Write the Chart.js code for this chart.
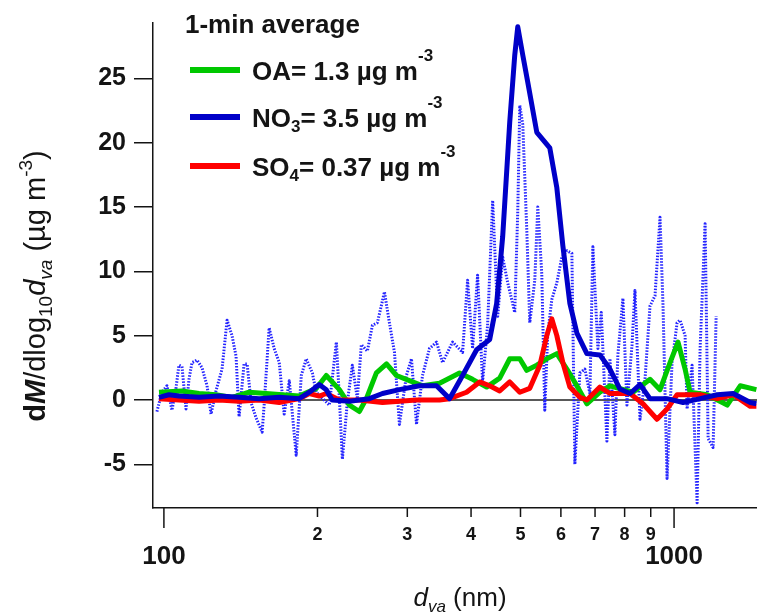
<!DOCTYPE html>
<html>
<head>
<meta charset="utf-8">
<script src="https://cdn.jsdelivr.net/npm/chart.js@4.4.0/dist/chart.umd.min.js"></script>
<style>
  html, body { margin: 0; padding: 0; background: #fff; }
</style>
</head>
<body>
<canvas id="sizeChart" width="757" height="613"></canvas>
<script>
// vacuum aerodynamic diameter (nm) for each trace, and dM/dlog10dva (ug m-3)
var oaSize = [97.8, 108.5, 117.2, 126.5, 136.0, 146.9, 158.7, 170.6, 184.2, 198.9, 208.1, 220.8, 231.0, 241.6, 249.4, 260.9,
  273.1, 285.7, 302.9, 321.3, 347.0, 379.8, 402.8, 429.1, 455.2, 476.3, 498.4, 514.4, 538.2, 563.0, 589.1, 616.4,
  644.9, 674.7, 715.6, 748.6, 830.9, 897.1, 938.6, 982, 1018, 1051, 1075, 1161, 1271, 1348, 1450];
var oaConc = [0.6, 0.7, 0.5, 0.4, 0.2, 0.6, 0.5, 0.4, 0.3, 0.9, 1.9, 0.8, -0.4, -0.9, 0.1, 2.1,
  2.8, 1.9, 1.5, 1.1, 1.3, 2.1, 1.6, 1.0, 1.7, 3.2, 3.2, 2.3, 2.7, 3.2, 3.6, 2.4,
  1.1, -0.3, 0.6, 1.1, 0.6, 1.6, 0.8, 2.9, 4.5, 2.4, 0.6, 0.4, -0.4, 1.1, 0.8];

var no3Size = [97.8, 102.3, 107.0, 117.2, 128.2, 140.4, 153.7, 168.3, 184.2, 192.8, 201.6, 208.1, 213.8, 231.0, 252.8, 268.2,
  289.5, 317.0, 342.3, 363.0, 385.0, 410.2, 435.1, 449.0, 461.4, 476.3, 487.2, 493.9, 505.2, 516.7, 538.2, 570.6,
  589.1, 605.3, 624.8, 644.9, 674.7, 715.6, 748.6, 783.2, 819.9, 857.4, 897.1, 968.8, 1041.5, 1124.7, 1214.9, 1306, 1410.6, 1450];
var no3Conc = [0.2, 0.4, 0.3, 0.2, 0.3, 0.2, 0.1, 0.2, 0.1, 0.6, 1.2, 0.8, 0.0, -0.1, 0.1, 0.5,
  0.8, 1.1, 1.1, 0.1, 1.9, 3.9, 4.7, 7.5, 12.7, 21.6, 26.8, 29.0, 26.8, 24.7, 20.8, 19.6,
  16.5, 12.0, 7.5, 5.2, 3.6, 3.5, 2.4, 0.85, 0.5, 1.2, 0.1, 0.1, -0.2, 0.1, 0.4, 0.5, -0.2, -0.3];

var so4Size = [97.8, 107.0, 117.2, 128.2, 140.4, 153.7, 168.3, 184.2, 192.8, 201.6, 208.1, 220.8, 241.6, 268.2, 289.5, 312.7,
  347.0, 363.0, 392.0, 415.8, 435.1, 455.2, 476.3, 498.4, 521.4, 545.6, 563.0, 575.9, 589.1, 605.3, 624.8, 653.7,
  674.7, 715.6, 748.6, 819.9, 869.1, 926, 968.8, 1013.7, 1124.7, 1214.9, 1306, 1410.6, 1450];
var so4Conc = [0.1, 0.0, -0.1, 0.0, -0.1, 0.0, -0.2, 0.1, 0.5, 0.3, 0.5, 0.0, 0.0, -0.2, -0.1, 0.0,
  0.0, 0.1, 0.6, 1.4, 1.1, 0.7, 1.4, 0.6, 0.9, 2.7, 5.0, 6.3, 5.0, 2.9, 1.0, 0.2,
  0.0, 1.0, 0.5, 0.5, -0.3, -1.5, -0.7, 0.4, 0.4, 0.1, 0.4, -0.5, -0.5];

// unsmoothed 1-min nitrate distribution
var rawSize = [96.9, 99.1, 101.4, 103.7, 105.6, 107.0, 108.5, 110.5, 112.0, 113.5, 116.1, 118.8, 121.5, 123.7, 126.5, 130.0,
  133.0, 136.0, 138.5, 140.4, 143.6, 145.6, 148.2, 151.6, 155.8, 157.2, 160.8, 164.5, 168.3, 172.1, 176.1, 181.7,
  185.9, 190.1, 195.4, 198.9, 211.0, 217.8, 220.8, 223.8, 228.8, 234.1, 239.4, 243.8, 250.5, 256.3, 262.1, 270.6,
  276.7, 283.1, 289.5, 298.8, 305.7, 312.7, 321.3, 331.6, 342.3, 351.7, 368.0, 385.0, 393.8, 402.8, 412.0, 421.4,
  431.0, 441.0, 451.1, 461.4, 472.0, 487.2, 493.9, 498.4, 505.2, 514.4, 521.4, 533.3, 540.6, 550.4, 557.9, 565.6,
  575.9, 589.1, 602.6, 616.4, 630.5, 639.1, 653.7, 668.6, 683.9, 693.2, 709.1, 720.0, 738.5, 748.6, 765.7, 776.0,
  793.9, 808.4, 826.9, 838.2, 857.4, 877.0, 897.1, 917.6, 938.6, 951.4, 968.8, 991.0, 1013.7, 1027.5, 1051.0, 1060.6,
  1084.8, 1109.6, 1124.7, 1150.4, 1166.2, 1192.8, 1209.1];
var rawConc = [-0.9, 0.6, 1.1, -0.8, 0.9, 2.7, 2.6, -0.7, 1.6, 2.9, 3.1, 2.5, 1.1, -1.1, 0.7, 2.4,
  6.2, 5.0, 3.4, -1.3, 2.8, 2.8, -0.2, -1.4, -2.5, -0.4, 5.6, 4.0, 2.9, -1.1, 1.5, -4.3,
  1.9, 3.2, 2.1, 0.6, -0.4, 4.5, 0.1, -4.6, -0.2, 2.7, 0.1, 4.3, 3.8, 5.8, 6.0, 8.4,
  6.0, 3.7, -1.9, 1.9, 3.2, -1.9, 1.9, 4.0, 4.5, 2.9, 4.5, 3.7, 9.3, 4.0, 9.7, 1.4,
  5.8, 15.5, 6.5, 11.1, 9.1, 6.8, 14.7, 22.9, 21.4, 13.2, 6.0, 9.3, 15.0, 9.8, -0.8, 5.2,
  7.8, 9.1, 11.1, 11.6, 11.4, -5.0, 2.1, 2.4, 0.5, 11.9, 4.0, 6.8, -3.2, 3.2, -2.7, 3.5,
  7.9, -0.4, 4.2, 8.5, -1.5, 1.6, 7.3, 8.1, 14.2, 7.3, -6.1, 2.9, 6.0, 6.2, 5.0, -0.7,
  2.7, -8.0, 4.0, 13.7, -3.0, -3.7, 6.5];

var yTicks = [-5, 0, 5, 10, 15, 20, 25];
var sizeTicks = [100, 200, 300, 400, 500, 600, 700, 800, 900, 1000];
var sizeTickLabels = ['100', '2', '3', '4', '5', '6', '7', '8', '9', '1000'];

var FONT = 'Arial, "Liberation Sans", sans-serif';
var INK = '#141414';

function pts(xs, ys) {
    return xs.map(function (d, i) { return { x: d, y: ys[i] }; });
}

// draw a run of [text, font, dy] pieces one after another
function richWidth(ctx, parts) {
    var w = 0;
    parts.forEach(function (p) { ctx.font = p[1]; w += ctx.measureText(p[0]).width; });
    return w;
}
function drawRich(ctx, parts, x, y) {
    parts.forEach(function (p) {
        ctx.font = p[1];
        ctx.fillText(p[0], x, y + (p[2] || 0));
        x += ctx.measureText(p[0]).width;
    });
}

var zeroLine = {
    id: 'zeroLine',
    beforeDatasetsDraw: function (chart) {
        var ctx = chart.ctx, a = chart.chartArea;
        var y = chart.scales.y.getPixelForValue(0);
        ctx.save();
        ctx.strokeStyle = '#222';
        ctx.lineWidth = 1.5;
        ctx.beginPath();
        ctx.moveTo(a.left + 6, y);
        ctx.lineTo(a.right, y);
        ctx.stroke();
        ctx.restore();
    }
};

var decorations = {
    id: 'decorations',
    afterDraw: function (chart) {
        var ctx = chart.ctx, a = chart.chartArea, xs = chart.scales.x;
        ctx.save();
        ctx.fillStyle = INK;
        ctx.strokeStyle = INK;
        ctx.lineWidth = 1.5;
        ctx.textBaseline = 'alphabetic';

        // log axis ticks: long marks at decades, short in between
        sizeTicks.forEach(function (v, i) {
            var px = xs.getPixelForValue(v);
            var major = sizeTickLabels[i].length > 1;
            ctx.beginPath();
            ctx.moveTo(px, a.bottom);
            ctx.lineTo(px, a.bottom + (major ? 20 : 9));
            ctx.stroke();
            ctx.font = major ? 'bold 26px ' + FONT : 'bold 18px ' + FONT;
            ctx.textAlign = 'center';
            ctx.fillText(sizeTickLabels[i], px, a.bottom + (major ? 56 : 32));
        });
        ctx.textAlign = 'left';

        // x title
        var reg = '26px ' + FONT, it = 'italic 26px ' + FONT, sub = 'italic 17px ' + FONT;
        var xt = [['d', it], ['va', sub, 6], [' (nm)', reg]];
        drawRich(ctx, xt, (a.left + a.right) / 2 + 5 - richWidth(ctx, xt) / 2, 606);

        // y title, rotated
        var yr = '29px ' + FONT, ys = '19px ' + FONT;
        var yt = [['d', 'bold 29px ' + FONT], ['M', 'bold italic 29px ' + FONT], ['/dlog', yr], ['10', ys, 7],
            ['d', 'italic 29px ' + FONT], ['va', 'italic ' + ys, 7], [' (\u00b5g m', yr], ['-3', ys, -13], [')', yr]];
        ctx.save();
        ctx.translate(45, 286);
        ctx.rotate(-Math.PI / 2);
        drawRich(ctx, yt, -richWidth(ctx, yt) / 2, 0);
        ctx.restore();

        // legend
        var lb = 'bold 26px ' + FONT, sm = 'bold 17px ' + FONT;
        ctx.font = lb;
        ctx.fillText('1-min average', 185, 33);
        var rows = [
            { c: '#00c800', y: 70, t: [['OA= 1.3 \u00b5g m', lb], ['-3', sm, -19]] },
            { c: '#0000c8', y: 117, t: [['NO', lb], ['3', sm, 5], ['= 3.5 \u00b5g m', lb], ['-3', sm, -19]] },
            { c: '#ff0000', y: 166, t: [['SO', lb], ['4', sm, 5], ['= 0.37 \u00b5g m', lb], ['-3', sm, -19]] }
        ];
        rows.forEach(function (r) {
            ctx.strokeStyle = r.c;
            ctx.lineWidth = 6;
            ctx.beginPath();
            ctx.moveTo(190, r.y);
            ctx.lineTo(240, r.y);
            ctx.stroke();
            drawRich(ctx, r.t, 252, r.y + 10);
        });
        ctx.restore();
    }
};

var ctx = document.getElementById('sizeChart').getContext('2d');

var sizeChart = new Chart(ctx, {
    type: 'line',
    data: {
        datasets: [{
            label: 'NO3',
            data: pts(no3Size, no3Conc),
            borderColor: '#0000c8',
            borderWidth: 5,
            order: 1
        }, {
            label: 'SO4',
            data: pts(so4Size, so4Conc),
            borderColor: '#ff0000',
            borderWidth: 5,
            order: 2
        }, {
            label: 'OA',
            data: pts(oaSize, oaConc),
            borderColor: '#00c800',
            borderWidth: 5,
            order: 3
        }, {
            label: 'NO3 raw',
            data: pts(rawSize, rawConc),
            borderColor: '#2424ff',
            borderWidth: 3,
            borderDash: [1.5, 1.5],
            borderCapStyle: 'butt',
            order: 4
        }]
    },
    options: {
        responsive: false,
        animation: false,
        devicePixelRatio: 1,
        layout: { padding: { top: 16, right: 0, left: 0, bottom: 0 } },
        elements: {
            point: { radius: 0 },
            line: { tension: 0, borderJoinStyle: 'round', fill: false }
        },
        scales: {
            x: {
                type: 'logarithmic',
                min: 95.2,
                max: 1454,
                ticks: { display: false },
                grid: { display: false },
                border: { display: true, color: INK, width: 1.5 },
                afterFit: function (scale) { scale.height = 105; }
            },
            y: {
                type: 'linear',
                min: -8.4,
                max: 29.3,
                afterBuildTicks: function (scale) {
                    scale.ticks = yTicks.map(function (v) { return { value: v }; });
                },
                ticks: {
                    color: INK,
                    padding: 8,
                    font: { family: FONT, size: 25, weight: 'bold' }
                },
                grid: { drawOnChartArea: false, drawTicks: true, tickLength: 19, color: INK, lineWidth: 1.5 },
                border: { display: true, color: INK, width: 1.5 },
                afterFit: function (scale) { scale.width = 153; }
            }
        },
        plugins: {
            legend: { display: false },
            tooltip: { enabled: false }
        }
    },
    plugins: [zeroLine, decorations]
});
</script>
</body>
</html>
